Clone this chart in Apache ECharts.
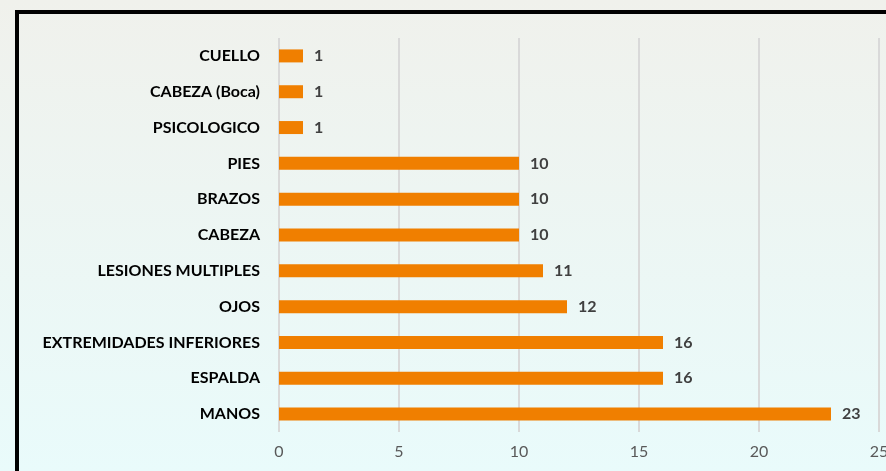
<!DOCTYPE html>
<html>

<head>
    <meta charset="utf-8">
    <script src="https://cdn.jsdelivr.net/npm/echarts@6/dist/echarts.min.js"></script>
    <style>
        html, body { margin: 0; padding: 0; }
    </style>
</head>

<body>
    <div id="main" style="width: 886px;height:471px;"></div>
    <script type="text/javascript">
        // categorias de abajo hacia arriba (eje de categorias invertido por defecto)
        var categorias = ['MANOS', 'ESPALDA', 'EXTREMIDADES INFERIORES', 'OJOS', 'LESIONES MULTIPLES',
            'CABEZA', 'BRAZOS', 'PIES', 'PSICOLOGICO', 'CABEZA (Boca)', 'CUELLO'];
        var valores = [23, 16, 16, 12, 11, 10, 10, 10, 1, 1, 1];
        var ticksX = [0, 5, 10, 15, 20, 25];

        var chartDom = document.getElementById('main');
        var myChart = echarts.init(chartDom);
        var option;

        option = {
            backgroundColor: new echarts.graphic.LinearGradient(0, 0, 0, 1, [
                { offset: 0, color: '#f0f1ec' },
                { offset: 1, color: '#e9fbfb' }
            ]),
            textStyle: { fontFamily: 'Lato' },
            grid: {
                left: 279,
                right: 7,
                top: 38,
                bottom: 39,
                outerBoundsMode: 'none'
            },
            // marco negro
            graphic: [
                {
                    type: 'rect',
                    shape: { x: 17, y: 12, width: 1000, height: 1000 },
                    style: { fill: null, stroke: '#000', lineWidth: 4 },
                    z: 100
                }
            ],
            xAxis: {
                type: 'value',
                min: ticksX[0],
                max: ticksX[ticksX.length - 1],
                interval: 5,
                axisLine: { show: false },
                axisTick: { show: false },
                axisLabel: {
                    color: '#595959',
                    fontSize: 16,
                    margin: 12
                },
                splitLine: {
                    lineStyle: { color: '#d9d9d9', width: 2 }
                }
            },
            yAxis: {
                type: 'category',
                data: categorias,
                axisLine: { show: false },
                axisTick: { show: false },
                axisLabel: {
                    color: '#000',
                    fontSize: 16,
                    fontWeight: 'bold',
                    margin: 19
                }
            },
            series: [
                {
                    type: 'bar',
                    data: valores,
                    barWidth: 13,
                    itemStyle: { color: '#f07f00' },
                    label: {
                        show: true,
                        position: 'right',
                        distance: 11,
                        color: '#404040',
                        fontSize: 16,
                        fontWeight: 'bold'
                    }
                }
            ]
        };
        myChart.setOption(option);
    </script>
</body>

</html>
